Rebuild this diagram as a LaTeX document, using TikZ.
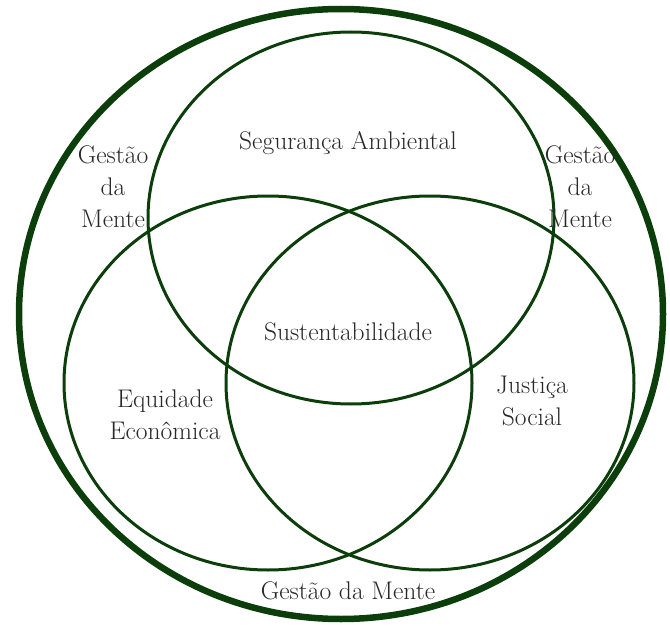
\documentclass[tikz,border=0pt]{standalone}
\definecolor{dgreen}{RGB}{12,62,12}
\definecolor{txt}{RGB}{40,40,40}
\tikzset{
  ring/.style={draw=dgreen, line width=3pt},
  outerring/.style={draw=dgreen, line width=6.5pt},
  lbl/.style={text=txt, font=\fontsize{25.5}{32}\selectfont, align=center, inner sep=0pt}
}
\begin{document}
\begin{tikzpicture}[x=1pt,y=-1pt]
\useasboundingbox (0,0) rectangle (670,626);
\draw[outerring] (341,314) ellipse [x radius=322, y radius=305];
\draw[ring] (351,218) ellipse [x radius=203, y radius=186];
\draw[ring] (268,383) ellipse [x radius=204, y radius=187];
\draw[ring] (430,383) ellipse [x radius=204, y radius=187];
\node[lbl] (seg) at (348,143) {Segurança Ambiental};
\node[lbl] (sus) at (348,332) {Sustentabilidade};
\node[lbl] (equ) at (165,415) {Equidade\\Econômica};
\node[lbl] (jus) at (532,401) {Justiça\\Social};
\node[lbl] (gl) at (113,187) {Gestão\\da\\Mente};
\node[lbl] (gr) at (580,187) {Gestão\\da\\Mente};
\node[lbl] (gb) at (348,591) {Gestão da Mente};
\end{tikzpicture}
\end{document}
